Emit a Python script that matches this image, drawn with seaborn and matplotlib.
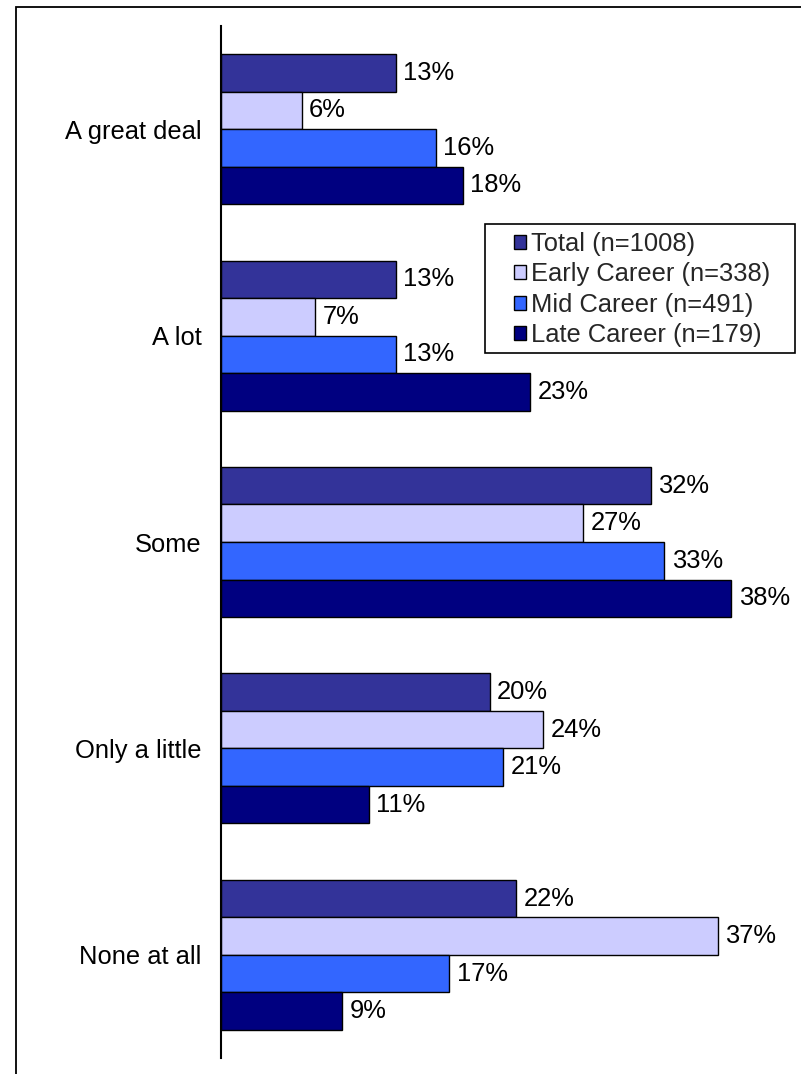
import matplotlib
matplotlib.use("Agg")
import matplotlib.pyplot as plt
from matplotlib.patches import Patch, Rectangle
import seaborn as sns
import pandas as pd

categories = ["A great deal", "A lot", "Some", "Only a little", "None at all"]
series = ["Total (n=1008)", "Early Career (n=338)", "Mid Career (n=491)", "Late Career (n=179)"]
total = [13, 13, 32, 20, 22]
early = [6, 7, 27, 24, 37]
mid = [16, 13, 33, 21, 17]
late = [18, 23, 38, 11, 9]
colors = ["#333399", "#CCCCFF", "#3366FF", "#000080"]

rows = []
for s, vals in zip(series, [total, early, mid, late]):
    for c, v in zip(categories, vals):
        rows.append({"category": c, "series": s, "value": v})
df = pd.DataFrame(rows)

sns.set_theme(style="white")
plt.rcParams["font.family"] = ["Liberation Sans", "DejaVu Sans"]
FS = 18.4

W, H = 801, 1074
fig = plt.figure(figsize=(W / 100, H / 100), dpi=100)
ax = fig.add_axes([221 / W, 1 - 1058 / H, (758 - 221) / W, (1058 - 26) / H])

sns.barplot(data=df, x="value", y="category", hue="series", orient="h",
            order=categories, hue_order=series, palette=colors,
            width=0.727, edgecolor="black", linewidth=1.0, legend=False,
            saturation=1, ax=ax)

for cont in ax.containers:
    ax.bar_label(cont, labels=[f"{int(round(b.get_width()))}%" for b in cont],
                 padding=5.5, fontsize=FS, color="black")

ax.set_xlim(0, 40)
ax.set_ylim(4.5, -0.5)
ax.set_xlabel("")
ax.set_ylabel("")
ax.set_xticks([])
for side in ["top", "right", "bottom"]:
    ax.spines[side].set_visible(False)
ax.spines["left"].set_color("black")
ax.spines["left"].set_linewidth(1.5)
ax.tick_params(axis="y", length=0, pad=14, labelsize=FS, labelcolor="black")
ax.set_facecolor("white")

# legend
handles = [Patch(facecolor=c, edgecolor="black", linewidth=1.0) for c in colors]
fig.legend(handles, series, loc="upper left",
           bbox_to_anchor=(514 / W, 1 - 232 / H), bbox_transform=fig.transFigure,
           frameon=False, fontsize=FS, handlelength=0.48, handleheight=0.48,
           handletextpad=0.18, labelspacing=0.25, borderpad=0, borderaxespad=0)
fig.patches.append(Rectangle((485 / W, 1 - 353 / H), 310 / W, 129 / H,
                             transform=fig.transFigure, fill=False,
                             edgecolor="black", linewidth=1.2))

# outer frame
fig.patches.append(Rectangle((16 / W, -0.1), 2, 1 - 7 / H + 0.1,
                             transform=fig.transFigure, fill=False,
                             edgecolor="black", linewidth=1.3))

fig.savefig("out.png", dpi=100, facecolor="white")
